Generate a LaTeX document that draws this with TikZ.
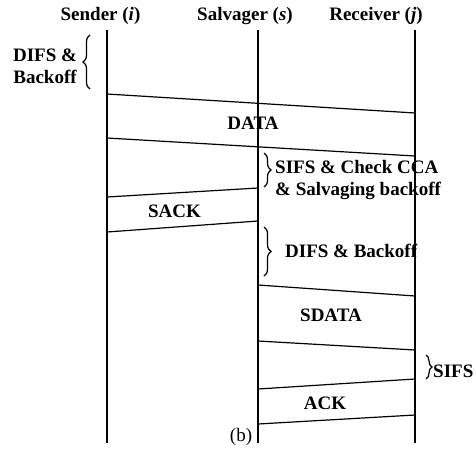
\documentclass[tikz,border=0pt]{standalone}
\usepackage{fontspec}
\setmainfont{Liberation Serif}
\usetikzlibrary{decorations.pathreplacing}
\begin{document}
\begin{tikzpicture}[x=1pt,y=-1pt,
  lbl/.style={font=\fontsize{19}{22}\selectfont\bfseries, inner sep=0pt, anchor=base},
  lblw/.style={lbl, anchor=base west, align=left},
  life/.style={line width=1.3pt},
  msg/.style={line width=1.2pt},
  brc/.style={decorate, decoration={brace, amplitude=7pt}, line width=1.2pt}]
\useasboundingbox (0,0) rectangle (476,453);
% headers
\node[lbl] (hs) at (100.5,20) {Sender (\textit{i})};
\node[lbl] (hv) at (245,20) {Salvager (\textit{s})};
\node[lbl] (hr) at (376,20) {Receiver (\textit{j})};
% lifelines
\coordinate (S0) at (107,30); \coordinate (S1) at (107,443);
\coordinate (V0) at (258,30); \coordinate (V1) at (258,443);
\coordinate (R0) at (415,30); \coordinate (R1) at (415,443);
\draw[life] (S0) -- (S1);
\draw[life] (V0) -- (V1);
\draw[life] (R0) -- (R1);
% message endpoints
\coordinate (d1s) at (107,94);  \coordinate (d1r) at (415,113);
\coordinate (d2s) at (107,138); \coordinate (d2r) at (415,156);
\coordinate (k1v) at (258,188); \coordinate (k1s) at (107,197);
\coordinate (k2v) at (258,221); \coordinate (k2s) at (107,232);
\coordinate (e1v) at (258,285); \coordinate (e1r) at (415,296);
\coordinate (e2v) at (258,341); \coordinate (e2r) at (415,350);
\coordinate (a1r) at (415,379); \coordinate (a1v) at (258,389);
\coordinate (a2r) at (415,415); \coordinate (a2v) at (258,424);
\draw[msg] (d1s) -- (d1r);
\draw[msg] (d2s) -- (d2r);
\draw[msg] (k1v) -- (k1s);
\draw[msg] (k2v) -- (k2s);
\draw[msg] (e1v) -- (e1r);
\draw[msg] (e2v) -- (e2r);
\draw[msg] (a1r) -- (a1v);
\draw[msg] (a2r) -- (a2v);
% braces
\coordinate (b1a) at (90,89);  \coordinate (b1b) at (90,35);
\coordinate (b2a) at (264,153); \coordinate (b2b) at (264,187);
\coordinate (b3a) at (264,227); \coordinate (b3b) at (264,276);
\coordinate (b4a) at (426,355); \coordinate (b4b) at (426,379);
\draw[brc] (b1a) -- (b1b);
\draw[brc] (b2a) -- (b2b);
\draw[brc] (b3a) -- (b3b);
\draw[brc, decoration={brace, amplitude=6pt}] (b4a) -- (b4b);
% labels
\node[lbl, align=center] (t1) at (45,83) {DIFS \&\\Backoff};
\node[lbl] (tdata) at (253,129) {DATA};
\node[lblw] (t2) at (275,195) {SIFS \& Check CCA\\\& Salvaging backoff};
\node[lbl] (tsack) at (174.5,217) {SACK};
\node[lblw] (t3) at (285,257) {DIFS \& Backoff};
\node[lbl] (tsdata) at (331,321) {SDATA};
\node[lblw] (t4) at (433,377) {SIFS};
\node[lbl] (tack) at (325,409) {ACK};
\node[lbl, font=\fontsize{19}{22}\selectfont] (tb) at (241,441) {(b)};
\end{tikzpicture}
\end{document}
